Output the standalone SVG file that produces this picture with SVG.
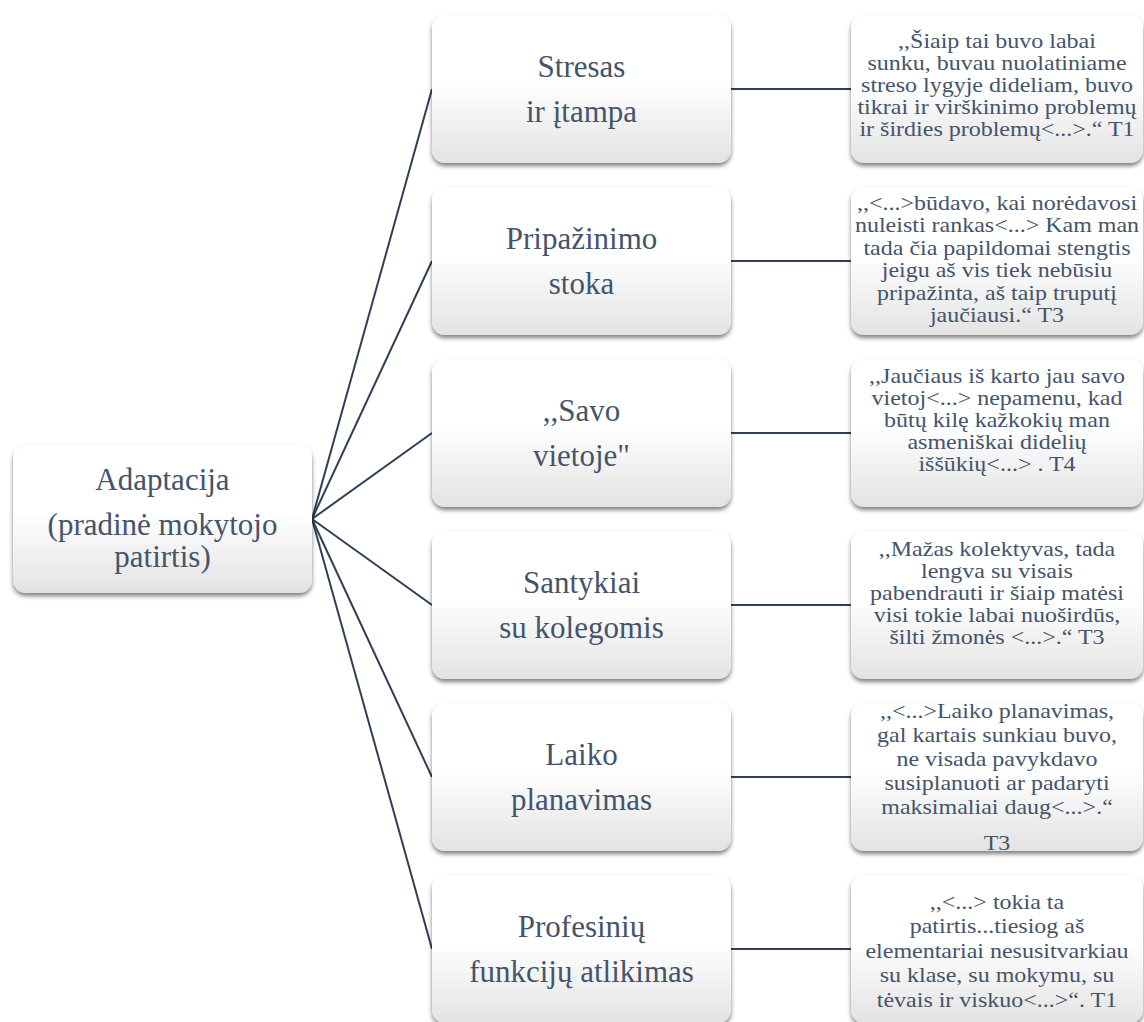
<svg xmlns="http://www.w3.org/2000/svg" width="1144" height="1022" viewBox="0 0 1144 1022">
  <defs>
    <linearGradient id="boxFill" x1="0" y1="0" x2="0" y2="1">
      <stop offset="0" stop-color="#ffffff"/>
      <stop offset="0.45" stop-color="#ffffff"/>
      <stop offset="1" stop-color="#e3e3e3"/>
    </linearGradient>
    <filter id="shadow" x="-10%" y="-10%" width="120%" height="130%">
      <feDropShadow dx="0" dy="3" stdDeviation="2.2" flood-color="#000" flood-opacity="0.5"/>
    </filter>
    <style>
      .box { fill: url(#boxFill); filter: url(#shadow); }
      .lbl { font-family: "Liberation Serif", "Times New Roman", serif; font-size: 31px; fill: #44546a; text-anchor: middle; }
      .q { font-family: "Liberation Serif", "Times New Roman", serif; font-size: 20px; fill: #44546a; text-anchor: middle; }
      .edge { stroke: #2f3f58; stroke-width: 2; fill: none; }
    </style>
  </defs>

  <rect width="1144" height="1022" fill="#ffffff"/>

  <!-- connectors -->
  <g id="connectors">
    <line class="edge" x1="312" y1="519" x2="432" y2="89"/>
    <line class="edge" x1="312" y1="519" x2="432" y2="261"/>
    <line class="edge" x1="312" y1="519" x2="432" y2="433"/>
    <line class="edge" x1="312" y1="519" x2="432" y2="605"/>
    <line class="edge" x1="312" y1="519" x2="432" y2="777"/>
    <line class="edge" x1="312" y1="519" x2="432" y2="949"/>
    <line class="edge" x1="731" y1="89" x2="851" y2="89"/>
    <line class="edge" x1="731" y1="261" x2="851" y2="261"/>
    <line class="edge" x1="731" y1="433" x2="851" y2="433"/>
    <line class="edge" x1="731" y1="605" x2="851" y2="605"/>
    <line class="edge" x1="731" y1="777" x2="851" y2="777"/>
    <line class="edge" x1="731" y1="949" x2="851" y2="949"/>
  </g>

  <!-- root -->
  <g id="adaptacija">
    <rect class="box" x="13" y="445" width="299" height="148" rx="13"/>
    <text class="lbl"><tspan x="162.5" y="490">Adaptacija</tspan><tspan x="162.5" y="535">(pradinė mokytojo</tspan><tspan x="162.5" y="567">patirtis)</tspan></text>
  </g>

  <!-- themes -->
  <g id="stresas">
    <rect class="box" x="432" y="15" width="299" height="148" rx="13"/>
    <text class="lbl"><tspan x="581.5" y="77">Stresas</tspan><tspan x="581.5" y="122">ir įtampa</tspan></text>
  </g>
  <g id="pripazinimo-stoka">
    <rect class="box" x="432" y="187" width="299" height="148" rx="13"/>
    <text class="lbl"><tspan x="581.5" y="249">Pripažinimo</tspan><tspan x="581.5" y="294">stoka</tspan></text>
  </g>
  <g id="savo-vietoje">
    <rect class="box" x="432" y="359" width="299" height="148" rx="13"/>
    <text class="lbl"><tspan x="581.5" y="421">,,Savo</tspan><tspan x="581.5" y="466">vietoje"</tspan></text>
  </g>
  <g id="santykiai">
    <rect class="box" x="432" y="531" width="299" height="148" rx="13"/>
    <text class="lbl"><tspan x="581.5" y="593">Santykiai</tspan><tspan x="581.5" y="638">su kolegomis</tspan></text>
  </g>
  <g id="laiko-planavimas">
    <rect class="box" x="432" y="703" width="299" height="148" rx="13"/>
    <text class="lbl"><tspan x="581.5" y="765">Laiko</tspan><tspan x="581.5" y="810">planavimas</tspan></text>
  </g>
  <g id="profesiniu-funkciju">
    <rect class="box" x="432" y="875" width="299" height="148" rx="13"/>
    <text class="lbl"><tspan x="581.5" y="937">Profesinių</tspan><tspan x="581.5" y="982">funkcijų atlikimas</tspan></text>
  </g>

  <!-- quotes (widened serif, centred on x=997) -->
  <g id="quote-t1-stresas">
    <rect class="box" x="851" y="15" width="292" height="148" rx="13"/>
    <g transform="translate(997 0) scale(1.2 1)">
      <text class="q"><tspan x="0" y="48">,,Šiaip tai buvo labai</tspan><tspan x="0" y="70">sunku, buvau nuolatiniame</tspan><tspan x="0" y="92">streso lygyje dideliam, buvo</tspan><tspan x="0" y="114">tikrai ir virškinimo problemų</tspan><tspan x="0" y="136">ir širdies problemų&lt;...&gt;.“ T1</tspan></text>
    </g>
  </g>
  <g id="quote-t3-pripazinimas">
    <rect class="box" x="851" y="187" width="292" height="148" rx="13"/>
    <g transform="translate(997 0) scale(1.2 1)">
      <text class="q"><tspan x="0" y="210">,,&lt;...&gt;būdavo, kai norėdavosi</tspan><tspan x="0" y="232.4">nuleisti rankas&lt;...&gt; Kam man</tspan><tspan x="0" y="254.8">tada čia papildomai stengtis</tspan><tspan x="0" y="277.2">jeigu aš vis tiek nebūsiu</tspan><tspan x="0" y="299.6">pripažinta, aš taip truputį</tspan><tspan x="0" y="322">jaučiausi.“ T3</tspan></text>
    </g>
  </g>
  <g id="quote-t4-vieta">
    <rect class="box" x="851" y="359" width="292" height="148" rx="13"/>
    <g transform="translate(997 0) scale(1.2 1)">
      <text class="q"><tspan x="0" y="383">,,Jaučiaus iš karto jau savo</tspan><tspan x="0" y="405">vietoj&lt;...&gt; nepamenu, kad</tspan><tspan x="0" y="427">būtų kilę kažkokių man</tspan><tspan x="0" y="449">asmeniškai didelių</tspan><tspan x="0" y="471">iššūkių&lt;...&gt; . T4</tspan></text>
    </g>
  </g>
  <g id="quote-t3-kolektyvas">
    <rect class="box" x="851" y="531" width="292" height="148" rx="13"/>
    <g transform="translate(997 0) scale(1.2 1)">
      <text class="q"><tspan x="0" y="556">,,Mažas kolektyvas, tada</tspan><tspan x="0" y="578">lengva su visais</tspan><tspan x="0" y="600">pabendrauti ir šiaip matėsi</tspan><tspan x="0" y="622">visi tokie labai nuoširdūs,</tspan><tspan x="0" y="644">šilti žmonės &lt;...&gt;.“ T3</tspan></text>
    </g>
  </g>
  <g id="quote-t3-laikas">
    <rect class="box" x="851" y="703" width="292" height="148" rx="13"/>
    <g transform="translate(997 0) scale(1.2 1)">
      <text class="q"><tspan x="0" y="718">,,&lt;...&gt;Laiko planavimas,</tspan><tspan x="0" y="742">gal kartais sunkiau buvo,</tspan><tspan x="0" y="766">ne visada pavykdavo</tspan><tspan x="0" y="790">susiplanuoti ar padaryti</tspan><tspan x="0" y="814">maksimaliai daug&lt;...&gt;.“</tspan><tspan x="0" y="850">T3</tspan></text>
    </g>
  </g>
  <g id="quote-t1-funkcijos">
    <rect class="box" x="851" y="875" width="292" height="148" rx="13"/>
    <g transform="translate(997 0) scale(1.2 1)">
      <text class="q"><tspan x="0" y="909">,,&lt;...&gt; tokia ta</tspan><tspan x="0" y="933.5">patirtis...tiesiog aš</tspan><tspan x="0" y="958">elementariai nesusitvarkiau</tspan><tspan x="0" y="982.5">su klase, su mokymu, su</tspan><tspan x="0" y="1007">tėvais ir viskuo&lt;...&gt;“. T1</tspan></text>
    </g>
  </g>
</svg>
